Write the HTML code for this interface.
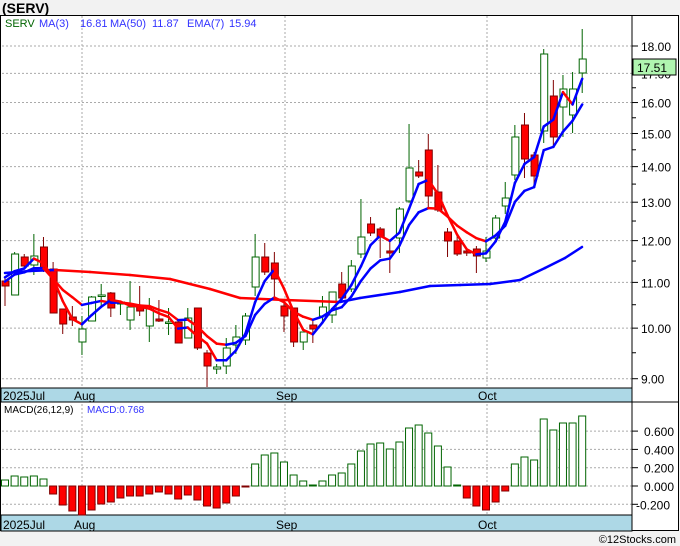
<!DOCTYPE html>
<html><head><meta charset="utf-8"><style>
html,body{margin:0;padding:0;background:#f2f2f2;}
body{width:680px;height:546px;overflow:hidden;position:relative;font-family:"Liberation Sans",sans-serif;}
</style></head><body>
<svg id="s" width="680" height="546" xmlns="http://www.w3.org/2000/svg" style="position:absolute;left:0;top:0">
<rect x="0" y="0" width="680" height="546" fill="#f2f2f2"/>
<text x="2" y="13" font-size="14" font-weight="bold" font-family="Liberation Sans,sans-serif">(SERV)</text>
<rect x="0.5" y="15.5" width="678" height="515" fill="#fff" stroke="#000"/>
<g id="g"></g>
<text x="676" y="543" font-size="11" text-anchor="end" fill="#000" font-family="Liberation Sans,sans-serif">©12Stocks.com</text>
</svg>
<script>
var NS="http://www.w3.org/2000/svg",g=document.getElementById('g');
function el(t,a,txt){var e=document.createElementNS(NS,t);for(var k in a)e.setAttribute(k,a[k]);if(txt!=null)e.textContent=txt;g.appendChild(e);return e;}
function Y(p){return 46+480*Math.log(18/p);}
function P(y){return 18*Math.exp(-(y-46)/480);}
function X(i){return 5+9.62*i;}
for(var p=9;p<=18;p++){var y=Y(p);el('line',{x1:2,x2:632,y1:y,y2:y,stroke:'#aaa','stroke-dasharray':'2,2'});
el('line',{x1:632,x2:638,y1:y,y2:y,stroke:'#000'});
el('text',{x:641,y:y+5,'font-size':12,fill:'#000'},p.toFixed(2));
if(p<18){var ym=Y(p+0.5);el('line',{x1:632,x2:636,y1:ym,y2:ym,stroke:'#000'});}}
[82,285,487].forEach(function(x){el('line',{x1:x,x2:x,y1:16,y2:530,stroke:'#aaa','stroke-dasharray':'2,2'});});
var Z=486,K=91.5;
[0.6,0.4,0.2,0,-0.2].forEach(function(v){var y=Z-v*K;el('line',{x1:2,x2:632,y1:y,y2:y,stroke:'#aaa','stroke-dasharray':'2,2'});
el('line',{x1:632,x2:638,y1:y,y2:y,stroke:'#000'});
el('text',{x:v<0?636:644,y:y+5,'font-size':12,fill:'#000'},v.toFixed(3));});
[[388,402],[515,531]].forEach(function(b){el('rect',{x:1,y:b[0],width:631,height:b[1]-b[0],fill:'#add8e6',stroke:'#000'});
var ty=b[1]-2;el('text',{x:3,y:ty,'font-size':12},'2025Jul');el('text',{x:74,y:ty,'font-size':12},'Aug');el('text',{x:276,y:ty,'font-size':12},'Sep');el('text',{x:478,y:ty,'font-size':12},'Oct');});
el('line',{x1:632,x2:632,y1:16,y2:531,stroke:'#000'});
el('line',{x1:0,x2:679,y1:402,y2:402,stroke:'#000'});
var C=[[281,286,276,306,0],[295,254,252,295,1],[257,266,254,268,0],[265,256,234,275,1],[247,268,237,272,0],[269,313,262,313,0],[309,324,309,334,0],[317,320,306,326,0],[342,329,316,355,1],[321,297,296,321,1],[296,295,284,306,1],[293,308,292,317,0],[304,302,301,315,1],[320,307,281,330,1],[307,311,286,316,0],[326,308,298,342,1],[319,321,300,322,0],[323,322,308,335,1],[322,343,322,343,0],[338,318,308,338,1],[308,348,308,350,0],[353,366,350,387,0],[369,367,364,374,1],[366,348,338,374,1],[345,337,325,354,1],[340,316,313,345,1],[287,257,234,296,1],[257,272,243,275,0],[263,279,252,299,0],[306,316,300,332,0],[308,342,308,347,0],[342,332,332,350,1],[325,329,320,343,0],[316,307,296,322,1],[315,292,292,323,1],[284,298,272,300,0],[289,266,260,292,1],[254,237,199,258,1],[224,233,217,236,0],[229,237,227,258,0],[251,253,242,273,0],[238,209,207,253,1],[201,168,124,203,1],[172,176,160,178,0],[150,196,134,208,0],[192,210,165,212,0],[232,241,228,257,0],[241,254,236,256,0],[251,253,249,256,0],[249,256,246,273,0],[258,251,237,262,1],[238,218,215,240,1],[206,198,182,214,1],[175,137,125,180,1],[125,159,113,178,0],[155,176,152,185,0],[131,54,49,143,1],[96,137,80,146,0],[107,89,75,137,1],[115,89,72,133,1],[73,59,29,93,1]];
C.forEach(function(c,i){var x=X(i),col=c[4]?'#006400':'#800000';
var t=Math.min(c[0],c[1]),b=Math.max(c[0],c[1]);
el('line',{x1:x,x2:x,y1:c[2],y2:t,stroke:col});el('line',{x1:x,x2:x,y1:b,y2:c[3],stroke:col});
el('rect',{x:x-3,y:t,width:7,height:Math.max(b-t,1.5),fill:c[4]?'#fff':'#f00',stroke:col});});
function drawLine(pts,w){for(var i=1;i<pts.length;i++){var a=pts[i-1],b=pts[i];el('line',{x1:a[0],y1:a[1],x2:b[0],y2:b[1],stroke:b[1]>a[1]+0.1?'#f00':'#00f','stroke-width':w||2.5,'stroke-linecap':'round'});}}
var cl=C.map(function(c){return P(c[1]);});
var ma3=[],ema=[],e=P(280),pr=[P(272),P(274)];
cl.forEach(function(c,i){var a=i>=2?cl.slice(i-2,i+1):pr.slice(i).concat(cl.slice(0,i+1));var m=(a[0]+a[1]+a[2])/3;ma3.push([X(i),Y(m)]);
e=e+(c-e)*2/8;ema.push([X(i),Y(e)]);});
var ma50=[[5,273],[30,271],[55,270],[90,272],[130,275],[170,279],[210,289],[240,298],[285,300],[340,302],[360,298],[400,292],[430,286],[460,285],[490,284],[520,280],[545,268],[565,258],[582,247]];
drawLine(ma50);drawLine(ema);drawLine(ma3);
el('rect',{x:633,y:59,width:43,height:16,fill:'#b0f5b0',stroke:'#000'});
el('text',{x:637,y:72,'font-size':12},'17.51');
el('text',{x:5,y:27,'font-size':11,fill:'#006400'},'SERV');
[[39,'MA(3)'],[80,'16.81'],[110,'MA(50)'],[152,'11.87'],[187,'EMA(7)'],[229,'15.94']].forEach(function(t){el('text',{x:t[0],y:27,'font-size':11,fill:'#3333ff'},t[1]);});
el('text',{x:4,y:413,'font-size':10,fill:'#000'},'MACD(26,12,9)');
el('text',{x:87,y:413,'font-size':10,fill:'#3333ff'},'MACD:0.768');
var M=[6,10,9,10,7,-8,-19,-25,-29,-24,-18,-16,-12,-10,-10,-8,-6,-8,-13,-9,-14,-20,-22,-17,-10,-1,22,31,33,24,11,5,1,5,11,13,22,35,42,43,37,44,58,61,53,40,19,1,-12,-20,-24,-16,-5,22,29,26,67,56,63,63,70];
M.forEach(function(v,i){var x=X(i);if(v>=0)el('rect',{x:x-3.5,y:Z-v,width:7,height:Math.max(v,1),fill:'#fff',stroke:'#006400'});
else el('rect',{x:x-3.5,y:Z,width:7,height:-v,fill:'#f00',stroke:'#800000'});});
</script>
</body></html>
